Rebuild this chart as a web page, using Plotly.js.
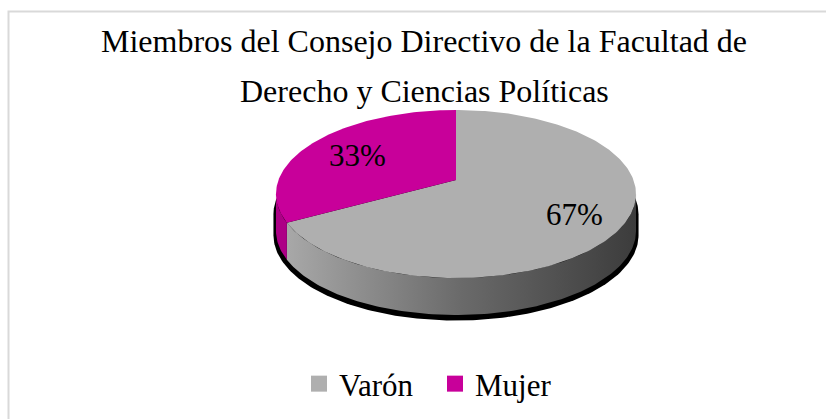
<!DOCTYPE html>
<html>
<head>
<meta charset="utf-8">
<script src="https://cdn.plot.ly/plotly-3.0.1.min.js"></script>
<style>
  html, body { margin: 0; padding: 0; background: #ffffff; }
  #chart { width: 826px; height: 419px; }
</style>
</head>
<body>
<div id="chart"></div>
<script>
// ---- Data ----
const categories = ['Varón', 'Mujer'];
const values = [67, 33];
const titleLines = ['Miembros del Consejo Directivo de la Facultad de', 'Derecho y Ciencias Políticas'];

// ---- Styles ----
const topColors = ['#afafaf', '#c8009a'];
const sideColors = [null, '#ad0086'];
const sideGradient = [[0, '#a8a8a8'], [0.5, '#6a6a6a'], [1, '#3c3c3c']];
const labelRadius = [0.73, 0.68];
const FONT = 'Liberation Serif';

// ---- 3D pie geometry (perspective projection onto the plot's pixel-like axes) ----
const G = { cx: 456, cy: 180, R: 177.5, S: 81.67, k: 1 / 6, depth: 37 };
const deg = Math.PI / 180;
function proj(tDeg, dy, grow) {
  grow = grow || 0;
  const a = Math.cos(tDeg * deg), b = Math.sin(tDeg * deg);
  const w = 1 + G.k * b;
  return [G.cx + (G.R + grow) * a / w, G.cy - (G.S + grow * 0.5) * b / w + dy];
}
function arc(t0, t1, dy, grow) {
  const pts = [];
  const n = Math.max(2, Math.ceil(Math.abs(t1 - t0)));
  for (let i = 0; i <= n; i++) pts.push(proj(t0 + (t1 - t0) * i / n, dy, grow));
  return pts;
}
const silL = 180 + Math.asin(G.k) / deg;   // left silhouette angle
const silR = 360 - Math.asin(G.k) / deg;   // right silhouette angle

const total = values.reduce((s, v) => s + v, 0);
const slices = [];
let cum = 0;
values.forEach((v, i) => {
  const frac = v / total;
  const tStart = 90 - cum * 360;          // clockwise from 12 o'clock
  const tEnd = tStart - frac * 360;
  slices.push({ i, frac, tStart, tEnd, mid: (tStart + tEnd) / 2 });
  cum += frac;
});

const traces = [];

// shadow under the pie
{
  const up = arc(silR - 360, silL, 20, 2.5);
  const low = arc(silL, silR, G.depth + 4, 2.5);
  const pts = up.concat(low);
  traces.push({
    type: 'scatter', mode: 'lines', x: pts.map(p => p[0]), y: pts.map(p => p[1]),
    fill: 'toself', fillcolor: '#000000', line: { width: 0 }, hoverinfo: 'skip', showlegend: false
  });
}

// visible sides
slices.forEach(s => {
  let lo = Math.min(s.tStart, s.tEnd), hi = Math.max(s.tStart, s.tEnd);
  while (lo < 0) { lo += 360; hi += 360; }
  const candidates = [[silL, silR], [silL + 360, silR + 360]];
  candidates.forEach(c => {
    const a0 = Math.max(lo, c[0]), a1 = Math.min(hi, c[1]);
    if (a1 <= a0) return;
    const top = arc(a0, a1, 0);
    const bot = arc(a1, a0, G.depth);
    const pts = top.concat(bot);
    const tr = {
      type: 'scatter', mode: 'lines', x: pts.map(p => p[0]), y: pts.map(p => p[1]),
      fill: 'toself', line: { width: 0 }, hoverinfo: 'skip', showlegend: false,
      legendgroup: categories[s.i]
    };
    if (sideColors[s.i]) tr.fillcolor = sideColors[s.i];
    else { tr.fillcolor = '#777777'; tr.fillgradient = { type: 'horizontal', colorscale: sideGradient }; }
    traces.push(tr);
  });
});

// top faces
slices.forEach(s => {
  const pts = [[G.cx, G.cy]].concat(arc(s.tStart, s.tEnd, 0));
  pts.push([G.cx, G.cy]);
  traces.push({
    type: 'scatter', mode: 'lines', x: pts.map(p => p[0]), y: pts.map(p => p[1]),
    fill: 'toself', fillcolor: topColors[s.i], line: { width: 0 },
    name: categories[s.i], legendgroup: categories[s.i], showlegend: false,
    hoverinfo: 'text', text: categories[s.i] + ': ' + Math.round(s.frac * 100) + '%'
  });
});

// legend entries
categories.forEach((c, i) => {
  traces.push({
    type: 'scatter', mode: 'markers', x: [null], y: [null], name: c, legendgroup: c,
    marker: { symbol: 'square', size: 16, color: topColors[i] }, showlegend: true
  });
});

// percentage labels
const annotations = slices.map(s => {
  const r = labelRadius[s.i];
  const a = r * Math.cos(s.mid * deg), b = r * Math.sin(s.mid * deg);
  const w = 1 + G.k * b;
  return {
    x: G.cx + G.R * a / w, y: G.cy - G.S * b / w + 2, xref: 'x', yref: 'y',
    text: Math.round(s.frac * 100) + '%', showarrow: false,
    font: { family: FONT, size: 31, color: '#000000' }, xanchor: 'center', yanchor: 'middle'
  };
});
annotations.push({
  x: 424, y: 91, xref: 'x', yref: 'y', text: titleLines[1], showarrow: false,
  font: { family: FONT, size: 32, color: '#000000' }, xanchor: 'center', yanchor: 'middle'
});

const layout = {
  width: 826, height: 419,
  margin: { l: 0, r: 0, t: 0, b: 0 },
  paper_bgcolor: '#ffffff', plot_bgcolor: '#ffffff',
  title: {
    text: titleLines[0], font: { family: FONT, size: 32, color: '#000000' },
    x: 424 / 826, xanchor: 'center', xref: 'paper', y: 1 - 41 / 419, yanchor: 'middle', yref: 'container'
  },
  xaxis: { range: [0, 826], visible: false, fixedrange: true },
  yaxis: { range: [419, 0], visible: false, fixedrange: true },
  showlegend: true,
  legend: {
    orientation: 'h', x: 299 / 826, xanchor: 'left', y: 1 - 384 / 419, yanchor: 'middle',
    font: { family: FONT, size: 31, color: '#000000' }, bgcolor: 'rgba(0,0,0,0)',
    entrywidth: 91, itemclick: false, itemdoubleclick: false
  },
  shapes: [{
    type: 'rect', xref: 'x', yref: 'y', x0: 8.5, y0: 11.5, x1: 840, y1: 440,
    line: { color: '#d9d9d9', width: 2 }, layer: 'below'
  }],
  annotations: annotations
};

Plotly.newPlot('chart', traces, layout, { staticPlot: true, displayModeBar: false });
</script>
</body>
</html>
